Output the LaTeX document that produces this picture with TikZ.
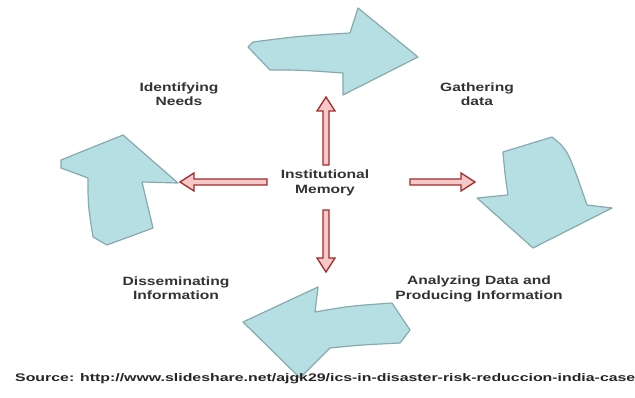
\documentclass[tikz,border=0pt]{standalone}
\usepackage{fontspec}
\setmainfont{Liberation Sans}[FakeStretch=1.3]
\definecolor{arrowfill}{HTML}{B6DFE3}
\definecolor{arrowline}{HTML}{86AAAE}
\definecolor{redfill}{HTML}{F5C9C9}
\definecolor{redline}{HTML}{A52A2A}
\begin{document}
\begin{tikzpicture}[x=1pt,y=-1pt,
  cyanarrow/.style={fill=arrowfill,draw=arrowline,line width=1.2pt,line join=round},
  redarrow/.style={fill=redfill,draw=redline,line width=1.3pt,line join=miter},
  lbl/.style={font=\bfseries\fontsize{12}{14.5}\selectfont,text=black!80,align=center,inner sep=0pt},
  srclbl/.style={font=\bfseries\fontsize{11}{12}\selectfont,text=black!85,anchor=west,inner sep=0pt}]
\useasboundingbox (0,0) rectangle (635,398);
\fill[white] (0,0) rectangle (635,398);
\begin{scope}
\clip (0,0) rectangle (635,398);
% cyan cycle arrows
\draw[cyanarrow] (248,47) -- (253,42) .. controls (300,36) .. (350,33) -- (358,8) -- (418,57) -- (343,95) -- (343,73) .. controls (300,70) .. (270,70) -- cycle;
\draw[cyanarrow] (503,152) -- (552,137) .. controls (568,150) .. (587,205) -- (612,208) -- (533,248) -- (477,198) -- (508,195) .. controls (505,175) .. cycle;
\draw[cyanarrow] (123,135) -- (178,183) -- (142,182) .. controls (148,205) .. (153,228) -- (107,245) -- (93,237) .. controls (88,205) .. (88,178) -- (61,168) -- (61,160) -- cycle;
\draw[cyanarrow] (318,287) -- (315,312) .. controls (350,306) .. (392,303) -- (410,330) -- (400,343) .. controls (360,345) .. (330,348) -- (300,378) -- (243,322) -- cycle;
% labels
\node[lbl] (needs) at (179,94) {Identifying\\Needs};
\node[lbl] (gather) at (477,94) {Gathering\\data};
\node[lbl] (memory) at (325,183) {Institutional\\Memory};
\node[lbl] (dissem) at (176,288) {Disseminating\\Information};
\node[lbl] (analyze) at (479,289) {Analyzing Data and\\Producing Information};
% red arrows from the centre
\draw[redarrow] (323,165) -- (323,111) -- (317,111) -- (326,97) -- (335,111) -- (329,111) -- (329,165) -- cycle;
\draw[redarrow] (323,210) -- (323,258) -- (317,258) -- (326,272) -- (335,258) -- (329,258) -- (329,210) -- cycle;
\draw[redarrow] (267,179) -- (194,179) -- (194,173) -- (180,182) -- (194,191) -- (194,185) -- (267,185) -- cycle;
\draw[redarrow] (410,179) -- (461,179) -- (461,173) -- (475,182) -- (461,191) -- (461,185) -- (410,185) -- cycle;
% source
\node[srclbl] (source) at (15,379) {\scalebox{1.11}[1]{Source: http://www.slideshare.net/ajgk29/ics-in-disaster-risk-reduccion-india-case}};
\end{scope}
\end{tikzpicture}
\end{document}
